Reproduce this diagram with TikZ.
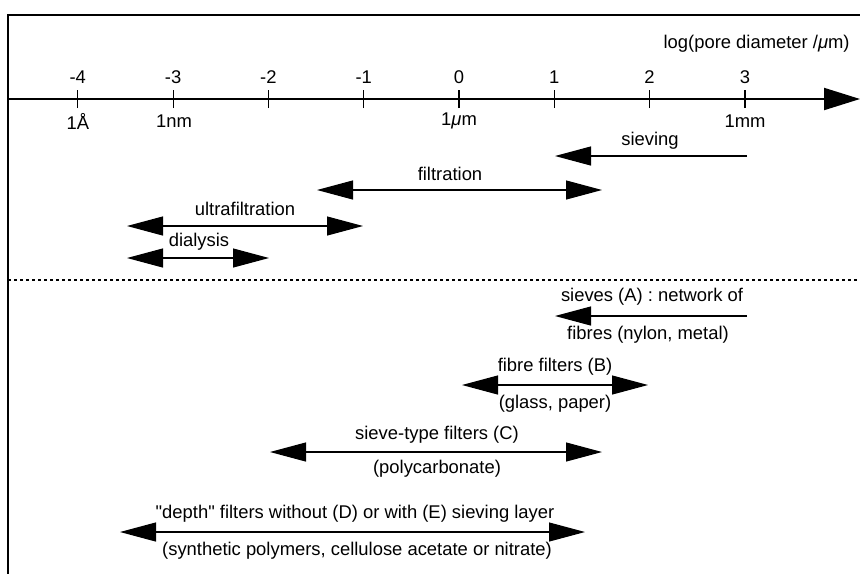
\documentclass[tikz,border=0pt]{standalone}
\usepackage{fontspec}
\setmainfont{Liberation Sans}
\usetikzlibrary{arrows.meta}
\newcommand{\straightq}{\XeTeXglyph\XeTeXcharglyph"22\relax}
\begin{document}
\begin{tikzpicture}[x=0.5pt,y=-0.5pt,
  lbl/.style={inner sep=0pt, font=\fontsize{9.2}{10}\selectfont},
  rng/.style={line width=0.55pt, {Triangle[length=18pt,width=9.5pt]}-{Triangle[length=18pt,width=9.5pt]}},
  rngl/.style={line width=0.55pt, -{Triangle[length=18pt,width=9.5pt]}},
  frame/.style={line width=1pt},
  tick/.style={line width=0.6pt},
  sep/.style={line width=0.6pt, dash pattern=on 1.5pt off 1.5pt}]
\useasboundingbox (0,0) rectangle (860,574);
% frame
\coordinate (tl) at (8,15);
\coordinate (tr) at (860,15);
\coordinate (bl) at (8,574);
\draw[frame] (tr) -- (tl) -- (bl);
% axis
\coordinate (axL) at (8,99);
\coordinate (axR) at (860,99);
\draw[line width=1pt, -{Triangle[length=18pt,width=11pt]}] (axL) -- (axR);
\node[lbl, anchor=east] (axtitle) at (850,44) {log(pore diameter /\textit{μ}m)};
\foreach \k in {-4,...,3} {
  \coordinate (t\k) at ({459+95.3*\k},99);
  \draw[tick] ([yshift=-4.5pt]t\k) -- ([yshift=4.5pt]t\k);
  \node[lbl] (n\k) at ({459+95.3*\k},77) {\k};
}
\node[lbl] (uA) at (78,121) {1Å};
\node[lbl] (unm) at (174,121) {1nm};
\node[lbl] (uum) at (459,121) {1\textit{μ}m};
\node[lbl] (umm) at (745,121) {1mm};
% upper ranges
\coordinate (sv1) at (747,156); \coordinate (sv2) at (555,156);
\draw[rngl] (sv1) -- (sv2);
\node[lbl] (svl) at (650,141) {sieving};
\coordinate (fi1) at (317,190); \coordinate (fi2) at (602,190);
\draw[rng] (fi1) -- (fi2);
\node[lbl] (fil) at (450,174) {filtration};
\coordinate (uf1) at (127,226); \coordinate (uf2) at (363,226);
\draw[rng] (uf1) -- (uf2);
\node[lbl] (ufl) at (245,209) {ultrafiltration};
\coordinate (di1) at (127,258); \coordinate (di2) at (269,258);
\draw[rng] (di1) -- (di2);
\node[lbl] (dil) at (199,242) {dialysis};
% separator
\coordinate (s1) at (8,280); \coordinate (s2) at (860,280);
\draw[sep] (s1) -- (s2);
% lower ranges
\coordinate (A1) at (747,316); \coordinate (A2) at (555,316);
\draw[rngl] (A1) -- (A2);
\node[lbl] (Al) at (652,297) {sieves (A) : network of};
\node[lbl] (Al2) at (648,335) {fibres (nylon, metal)};
\coordinate (B1) at (462,385); \coordinate (B2) at (648,385);
\draw[rng] (B1) -- (B2);
\node[lbl] (Bl) at (555,367) {fibre filters (B)};
\node[lbl] (Bl2) at (555,404) {(glass, paper)};
\coordinate (C1) at (270,452); \coordinate (C2) at (602,452);
\draw[rng] (C1) -- (C2);
\node[lbl] (Cl) at (437,435) {sieve-type filters (C)};
\node[lbl] (Cl2) at (437,469) {(polycarbonate)};
\coordinate (D1) at (120,532); \coordinate (D2) at (585,532);
\draw[rng] (D1) -- (D2);
\node[lbl] (Dl) at (355,514) {\straightq depth\straightq{} filters without (D) or with (E) sieving layer};
\node[lbl] (Dl2) at (357,551) {(synthetic polymers, cellulose acetate or nitrate)};
\end{tikzpicture}
\end{document}
